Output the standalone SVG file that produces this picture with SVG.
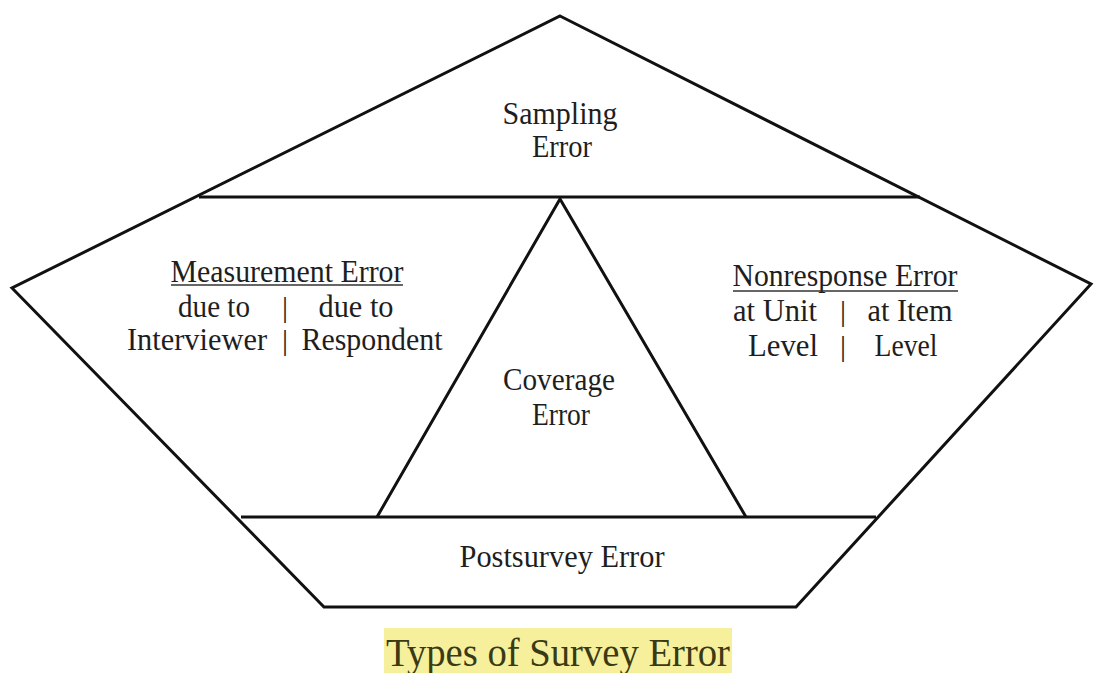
<svg xmlns="http://www.w3.org/2000/svg" width="1095" height="673" viewBox="0 0 1095 673">
<style>
.ln{fill:none;stroke:#111;stroke-width:3;stroke-linejoin:miter}
.t{font-family:"Liberation Serif","Times New Roman",serif;font-size:32px;fill:#1e1e1e;text-anchor:middle}
.b{font-family:"Liberation Serif","Times New Roman",serif;font-size:30px;fill:#1e1e1e;text-anchor:middle}
.u{stroke:#333;stroke-width:1.6}
.title{font-family:"Liberation Serif","Times New Roman",serif;font-size:39px;fill:#3a3a14;text-anchor:middle}
</style>
<rect width="1095" height="673" fill="#ffffff"/>
<g id="frame">
<polygon class="ln" points="560,16 1091,284 796,607 324,607 12,288"/>
</g>
<g id="connectors">
<line class="ln" x1="199" y1="197" x2="920" y2="197"/>
<line class="ln" x1="241" y1="517" x2="876" y2="517"/>
<polyline class="ln" points="377,517 560,199 746,517"/>
</g>
<g id="sampling">
<text class="t" x="560" y="124" textLength="115" lengthAdjust="spacingAndGlyphs">Sampling</text>
<text class="t" x="562" y="157" textLength="60" lengthAdjust="spacingAndGlyphs">Error</text>
</g>
<g id="measurement">
<text class="t" x="287" y="282" textLength="233" lengthAdjust="spacingAndGlyphs">Measurement Error</text>
<line class="u" x1="171" y1="285" x2="403" y2="285"/>
<text class="t" x="214" y="317" textLength="72" lengthAdjust="spacingAndGlyphs">due to</text>
<text class="b" x="285" y="317">|</text>
<text class="t" x="356" y="317" textLength="75" lengthAdjust="spacingAndGlyphs">due to</text>
<text class="t" x="197" y="350" textLength="140" lengthAdjust="spacingAndGlyphs">Interviewer</text>
<text class="b" x="285" y="350">|</text>
<text class="t" x="372" y="350" textLength="141" lengthAdjust="spacingAndGlyphs">Respondent</text>
</g>
<g id="nonresponse">
<text class="t" x="845" y="286" textLength="225" lengthAdjust="spacingAndGlyphs">Nonresponse Error</text>
<line class="u" x1="733" y1="291" x2="958" y2="291"/>
<text class="t" x="775" y="321" textLength="84" lengthAdjust="spacingAndGlyphs">at Unit</text>
<text class="b" x="843" y="321">|</text>
<text class="t" x="910" y="321" textLength="85" lengthAdjust="spacingAndGlyphs">at Item</text>
<text class="t" x="783" y="356" textLength="70" lengthAdjust="spacingAndGlyphs">Level</text>
<text class="b" x="843" y="356">|</text>
<text class="t" x="906" y="356" textLength="63" lengthAdjust="spacingAndGlyphs">Level</text>
</g>
<g id="coverage">
<text class="t" x="559" y="390" textLength="112" lengthAdjust="spacingAndGlyphs">Coverage</text>
<text class="t" x="561" y="425" textLength="58" lengthAdjust="spacingAndGlyphs">Error</text>
</g>
<g id="postsurvey">
<text class="t" x="562" y="567" textLength="205" lengthAdjust="spacingAndGlyphs">Postsurvey Error</text>
</g>
<g id="title">
<rect x="384" y="628" width="348" height="45" fill="#f6f09c"/>
<text class="title" x="558" y="666" textLength="344" lengthAdjust="spacingAndGlyphs">Types of Survey Error</text>
</g>
</svg>
